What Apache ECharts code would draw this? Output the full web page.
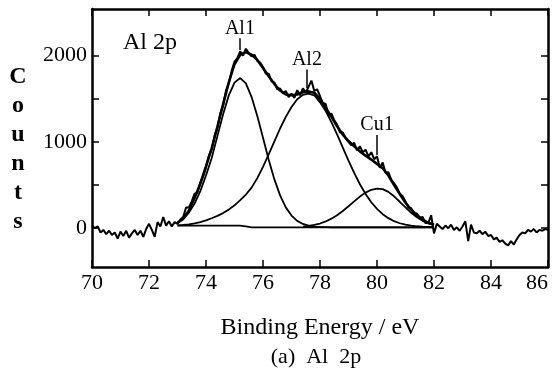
<!DOCTYPE html>
<html>
<head>
<meta charset="utf-8">
<script src="https://cdn.jsdelivr.net/npm/echarts@6/dist/echarts.min.js"></script>
<style>
  html, body { margin: 0; padding: 0; background: #fff; }
  #chart { width: 555px; height: 380px; }
</style>
</head>
<body>
<div id="chart"></div>
<script>
// measured spectrum, 70 - 86 eV
const rawEnergy = [
  70.0, 70.1, 70.2, 70.3, 70.4, 70.5, 70.6, 70.7, 70.8, 70.9,
  71.0, 71.1, 71.2, 71.3, 71.4, 71.5, 71.6, 71.7, 71.8, 71.9,
  72.0, 72.1, 72.2, 72.3, 72.4, 72.5, 72.6, 72.7, 72.8, 72.9,
  73.0, 73.1, 73.2, 73.3, 73.4, 73.5, 73.6, 73.7, 73.8, 73.9,
  74.0, 74.1, 74.2, 74.3, 74.4, 74.5, 74.6, 74.7, 74.8, 74.9,
  75.0, 75.1, 75.2, 75.3, 75.4, 75.5, 75.6, 75.7, 75.8, 75.9,
  76.0, 76.1, 76.2, 76.3, 76.4, 76.5, 76.6, 76.7, 76.8, 76.9,
  77.0, 77.1, 77.2, 77.3, 77.4, 77.5, 77.6, 77.7, 77.8, 77.9,
  78.0, 78.1, 78.2, 78.3, 78.4, 78.5, 78.6, 78.7, 78.8, 78.9,
  79.0, 79.1, 79.2, 79.3, 79.4, 79.5, 79.6, 79.7, 79.8, 79.9,
  80.0, 80.1, 80.2, 80.3, 80.4, 80.5, 80.6, 80.7, 80.8, 80.9,
  81.0, 81.1, 81.2, 81.3, 81.4, 81.5, 81.6, 81.7, 81.8, 81.9,
  82.0, 82.1, 82.2, 82.3, 82.4, 82.5, 82.6, 82.7, 82.8, 82.9,
  83.0, 83.1, 83.2, 83.3, 83.4, 83.5, 83.6, 83.7, 83.8, 83.9,
  84.0, 84.1, 84.2, 84.3, 84.4, 84.5, 84.6, 84.7, 84.8, 84.9,
  85.0, 85.1, 85.2, 85.3, 85.4, 85.5, 85.6, 85.7, 85.8, 85.9,
  86.0
];
const rawCounts = [
  30, 0, 20, -50, -20, -70, -30, -80, -50, -120,
  -40, -90, -30, -110, -60, -20, -80, -30, -100, -10,
  50, -20, -100, 70, 20, 130, 30, 80, 20, 70,
  50, 100, 130, 240, 240, 310, 400, 410, 530, 600,
  710, 840, 910, 1070, 1160, 1330, 1420, 1590, 1680, 1820,
  1930, 1970, 2050, 2000, 2080, 2030, 1990, 2010, 1940, 1920,
  1870, 1790, 1790, 1700, 1690, 1610, 1620, 1560, 1590, 1520,
  1560, 1510, 1600, 1540, 1620, 1570, 1640, 1710, 1590, 1610,
  1530, 1450, 1440, 1300, 1330, 1250, 1200, 1110, 1110, 1040,
  1000, 960, 990, 900, 950, 880, 910, 830, 880, 800,
  830, 700, 760, 640, 650, 560, 520, 470, 400, 370,
  310, 240, 230, 170, 170, 120, 130, 60, 60, 150,
  -60, 50, 20, -10, 30, 0, 40, -20, 10, -30,
  20, 80, -150, 40, -50, -60, -30, -70, -40, -90,
  -80, -130, -110, -160, -140, -180, -200, -150, -190, -130,
  -80, -50, -60, -20, -40, -10, -50, -20, -30, -10,
  -20
];

// fitted curves, 73 - 82 eV
const fitEnergy = [
  73.0, 73.2, 73.4, 73.6, 73.8, 74.0, 74.2, 74.4, 74.6, 74.8,
  75.0, 75.2, 75.4, 75.6, 75.8, 76.0, 76.2, 76.4, 76.6, 76.8,
  77.0, 77.2, 77.4, 77.6, 77.8, 78.0, 78.2, 78.4, 78.6, 78.8,
  79.0, 79.2, 79.4, 79.6, 79.8, 80.0, 80.2, 80.4, 80.6, 80.8,
  81.0, 81.2, 81.4, 81.6, 81.8, 82.0
];
const envelope = [
  60, 110, 205, 350, 515, 715, 925, 1175, 1435, 1690,
  1900, 2010, 2040, 2010, 1950, 1855, 1760, 1670, 1595, 1550,
  1540, 1550, 1575, 1585, 1570, 1495, 1395, 1290, 1180, 1085,
  1010, 950, 890, 840, 795, 745, 695, 610, 500, 395,
  295, 215, 150, 100, 62, 40
];
const al1 = [
  69, 105, 180, 285, 430, 610, 813, 1067, 1321, 1539,
  1687, 1740, 1677, 1519, 1301, 1047, 793, 565, 380, 241,
  146, 85, 49, 29, 19, 14, 12, 10, 10, 10,
  10, 10, 10, 10, 10, 10, 10, 10, 10, 10,
  10, 10, 10, 10, 10, 10
];
const al2 = [
  33, 37, 44, 55, 70, 90, 115, 142, 175, 215,
  265, 325, 390, 470, 580, 710, 855, 1005, 1155, 1290,
  1405, 1495, 1545, 1558, 1540, 1458, 1357, 1229, 1086, 934,
  782, 640, 509, 396, 300, 223, 162, 116, 81, 57,
  40, 29, 22, 17, 14, 12
];
const cu1 = [
  null, null, null, null, null, null, null, null, null, null,
  null, null, null, null, null, null, null, null, null, null,
  null, null, 19, 26, 37, 54, 78, 110, 150, 199,
  254, 311, 366, 412, 445, 459, 453, 421, 369, 306,
  240, 178, 126, 85, 56, 37
];
const background = [
  30, 30, 30, 30, 30, 30, 30, 30, 30, 30,
  30, 30, 20, 10, 10, 10, 10, 10, 10, 10,
  10, 10, 10, 10, 10, 10, 10, 10, 10, 10,
  10, 10, 10, 10, 10, 10, 10, 10, 10, 10,
  10, 10, 10, 10, 10, 10
];

// peak markers
const peakNames = ['Al1', 'Al2', 'Cu1'];
const peakEnergy = [75.19, 77.54, 80.0];
const leaderTop = [2200, 1840, 1080];
const leaderBottom = [2065, 1625, 848];

const xTicks = [70, 72, 74, 76, 78, 80, 82, 84, 86];
const yTicks = [0, 500, 1000, 1500, 2000];
const yLabels = [0, 1000, 2000];

const serif = "'Liberation Serif', 'DejaVu Serif', serif";
const pairs = (xs, ys) => xs.map((x, i) => [x, ys[i]]);

const chart = echarts.init(document.getElementById('chart'), null, { renderer: 'canvas' });

const frameLine = { show: true, onZero: false, lineStyle: { color: '#000', width: 2.5 } };
const tickStyle = { show: true, inside: true, length: 7, lineStyle: { color: '#000', width: 1.5 } };

const xAxisBase = {
  type: 'value', min: 70, max: 86, interval: 2,
  axisLine: frameLine, axisTick: tickStyle, splitLine: { show: false }
};
const yAxisBase = {
  type: 'value', min: -450, max: 2540,
  axisLine: frameLine,
  axisTick: { ...tickStyle, customValues: yTicks },
  splitLine: { show: false }
};

const curve = (name, data, width) => ({
  name, type: 'line', data, showSymbol: false, silent: true,
  lineStyle: { color: '#000', width }, itemStyle: { color: '#000' },
  animation: false
});

const envelopeSeries = curve('envelope', pairs(fitEnergy, envelope), 2.6);
envelopeSeries.markLine = {
  symbol: 'none', silent: true, animation: false,
  lineStyle: { color: '#000', width: 1.5, type: 'solid' },
  label: {
    show: true, position: 'start', distance: 0, formatter: p => p.name,
    fontFamily: serif, fontSize: 20, color: '#000'
  },
  data: peakNames.map((n, i) => [
    { name: n, coord: [peakEnergy[i], leaderTop[i]] },
    { coord: [peakEnergy[i], leaderBottom[i]] }
  ])
};

chart.setOption({
  animation: false,
  grid: { left: 92, right: 7, top: 9, bottom: 113, containLabel: false, outerBoundsMode: 'none' },
  xAxis: [
    {
      ...xAxisBase, position: 'bottom',
      axisLabel: {
        fontFamily: serif, fontSize: 22, color: '#000', margin: 5,
        customValues: xTicks, alignMaxLabel: 'right'
      },
      name: 'Binding Energy / eV', nameLocation: 'middle', nameGap: 49,
      nameTextStyle: { fontFamily: serif, fontSize: 24, color: '#000' }
    },
    { ...xAxisBase, position: 'top', axisLabel: { show: false } }
  ],
  yAxis: [
    {
      ...yAxisBase, position: 'left',
      axisLabel: {
        fontFamily: serif, fontSize: 22, color: '#000', margin: 5,
        customValues: yLabels, formatter: v => String(v)
      }
    },
    { ...yAxisBase, position: 'right', axisLabel: { show: false } }
  ],
  graphic: [
    {
      type: 'text', left: 123, top: 31,
      style: { text: 'Al 2p', font: '24px ' + serif, fill: '#000' }
    },
    {
      type: 'text', x: 18, y: 62,
      style: {
        text: 'C\no\nu\nn\nt\ns', font: 'bold 24px ' + serif, fill: '#000',
        align: 'center', lineHeight: 29
      }
    },
    {
      type: 'text', x: 316, y: 357,
      style: {
        text: '(a)  Al  2p', font: '22px ' + serif, fill: '#000',
        align: 'center', verticalAlign: 'middle'
      }
    }
  ],
  series: [
    curve('data', pairs(rawEnergy, rawCounts), 2),
    envelopeSeries,
    curve('Al1', pairs(fitEnergy, al1), 1.8),
    curve('Al2', pairs(fitEnergy, al2), 1.8),
    curve('Cu1', pairs(fitEnergy, cu1), 1.8),
    curve('background', pairs(fitEnergy, background), 1.8)
  ]
});
</script>
</body>
</html>
